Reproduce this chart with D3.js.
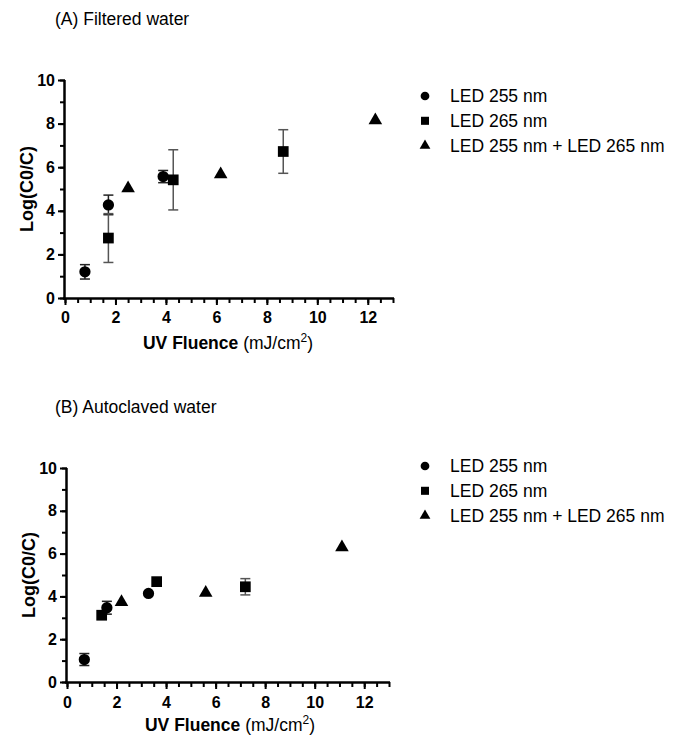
<!DOCTYPE html>
<html lang="en">
<head>
<meta charset="UTF-8">
<title>UV Fluence vs Log reduction</title>
<style>
  body { margin: 0; background: #fff; font-family: "Liberation Sans", Arial, sans-serif; }
  svg { display: block; }
  .legend text { font-size: 17.5px; fill: #000; }
</style>
</head>
<body>
<svg id="chart" width="683" height="735"></svg>
<script src="https://d3js.org/d3.v7.min.js"></script>
<script>
// Panel A: filtered water  [x, y, sd]
const seriesNames = ["LED 255 nm", "LED 265 nm", "LED 255 nm + LED 265 nm"];
const shapes = ["circle", "square", "triangle"];

const filtered255 = [[0.79, 1.2, 0.33], [1.72, 4.27, 0.45], [3.89, 5.57, 0.28]];
const filtered265 = [[1.72, 2.75, 1.12], [4.29, 5.42, 1.38], [8.65, 6.72, 1.0]];
const filteredMix = [[2.5, 5.03, 0], [6.17, 5.67, 0], [12.3, 8.15, 0]];

// Panel B: autoclaved water
const auto255 = [[0.70, 1.05, 0.28], [1.61, 3.47, 0.3], [3.29, 4.14, 0]];
const auto265 = [[1.40, 3.12, 0], [3.62, 4.69, 0], [7.2, 4.45, 0.38]];
const autoMix = [[2.2, 3.73, 0], [5.6, 4.17, 0], [11.1, 6.29, 0]];

const xMajor = [0, 2, 4, 6, 8, 10, 12];
const yMajor = [0, 2, 4, 6, 8, 10];

const svg = d3.select("#chart");

function symbolFor(shape) {
  if (shape === "circle") return d3.symbol().type(d3.symbolCircle).size(100);
  if (shape === "square") return d3.symbol().type(d3.symbolSquare).size(115);
  return d3.symbol().type(d3.symbolTriangle).size(80);
}

function styleTicks(a) {
  a.selectAll("text")
    .style("font-size", "16px")
    .style("font-weight", "bold")
    .style("font-family", "'Liberation Sans', Arial, sans-serif")
    .attr("fill", "#000");
}

function drawPanel(cfg) {
  const x = d3.scaleLinear().domain([0, 13]).range([cfg.left, cfg.left + cfg.w13]);
  const y = d3.scaleLinear().domain([0, 10]).range([cfg.bottom, cfg.top]);
  const g = svg.append("g");

  g.append("text")
    .attr("x", 55).attr("y", cfg.titleY)
    .style("font-size", "17.5px")
    .text(cfg.title);

  // x axis: majors with labels, minors every 0.5
  const xAx = g.append("g").attr("transform", `translate(0,${cfg.bottom})`);
  xAx.append("g")
    .call(d3.axisBottom(x).tickValues(d3.range(0, 13.01, 0.5)).tickSize(5).tickFormat(""))
    .call(a => a.select(".domain").remove())
    .selectAll("line").attr("stroke-width", 2);
  xAx.append("g")
    .call(d3.axisBottom(x).tickValues(xMajor).tickSize(7).tickPadding(cfg.xPad).tickSizeOuter(0))
    .call(a => a.select(".domain").attr("stroke-width", 2.5).attr("d", `M${cfg.left - 2},0.5H${cfg.left + cfg.w13 + 1}`))
    .call(styleTicks)
    .selectAll("line").attr("stroke-width", 2);

  // y axis: majors with labels, minors every 1
  const yAx = g.append("g").attr("transform", `translate(${cfg.left},0)`);
  yAx.append("g")
    .call(d3.axisLeft(y).tickValues(d3.range(0, 11, 1)).tickSize(5).tickFormat(""))
    .call(a => a.select(".domain").remove())
    .selectAll("line").attr("stroke-width", 2);
  yAx.append("g")
    .call(d3.axisLeft(y).tickValues(yMajor).tickSize(7).tickPadding(3).tickSizeOuter(0))
    .call(a => a.select(".domain").attr("stroke-width", 2.5).attr("d", `M-0.5,${cfg.bottom + 1}V${cfg.top}`))
    .call(styleTicks)
    .selectAll("line").attr("stroke-width", 2);

  // axis titles
  g.append("text")
    .attr("transform", `translate(${cfg.left - 32},${(cfg.top + cfg.bottom) / 2}) rotate(-90)`)
    .attr("text-anchor", "middle")
    .style("font-size", "18px").style("font-weight", "bold")
    .text("Log(C0/C)");

  const xt = g.append("text")
    .attr("x", cfg.left + 163).attr("y", cfg.bottom + cfg.xTitleOff)
    .attr("text-anchor", "middle")
    .style("font-size", "17.5px");
  xt.append("tspan").style("font-weight", "bold").text("UV Fluence ");
  xt.append("tspan").text("(mJ/cm");
  xt.append("tspan").attr("dy", -7).style("font-size", "12px").text("2");
  xt.append("tspan").attr("dy", 7).text(")");

  // data
  cfg.series.forEach((data, i) => {
    const sg = g.append("g");
    data.filter(d => d[2] > 0).forEach(d => {
      const cx = x(d[0]);
      const y1 = y(d[1] + d[2]), y0 = y(d[1] - d[2]);
      const col = i === 1 ? "#555" : "#222";
      sg.append("line").attr("x1", cx).attr("x2", cx).attr("y1", y1).attr("y2", y0)
        .attr("stroke", col).attr("stroke-width", 1.5);
      [y1, y0].forEach(yy => sg.append("line")
        .attr("x1", cx - 5).attr("x2", cx + 5).attr("y1", yy).attr("y2", yy)
        .attr("stroke", col).attr("stroke-width", 1.5));
    });
    sg.selectAll("path.pt").data(data).join("path")
      .attr("class", "pt")
      .attr("d", symbolFor(shapes[i]))
      .attr("transform", d => `translate(${x(d[0])},${y(d[1])})`)
      .attr("fill", "#000");
  });

  // legend
  const lg = g.append("g").attr("class", "legend");
  seriesNames.forEach((name, i) => {
    const ly = cfg.legendY + i * 24.8;
    lg.append("path")
      .attr("d", d3.symbol().type([d3.symbolCircle, d3.symbolSquare, d3.symbolTriangle][i]).size([60, 65, 50][i]))
      .attr("transform", `translate(425,${ly})`)
      .attr("fill", "#000");
    lg.append("text").attr("x", 450).attr("y", ly + 6).text(name);
  });
}

drawPanel({
  title: "(A) Filtered water", titleY: 25,
  left: 65, w13: 328, top: 80, bottom: 298,
  xPad: 6.5, xTitleOff: 51,
  series: [filtered255, filtered265, filteredMix],
  legendY: 96
});

drawPanel({
  title: "(B) Autoclaved water", titleY: 413,
  left: 67, w13: 322, top: 468, bottom: 682,
  xPad: 7.5, xTitleOff: 48.5,
  series: [auto255, auto265, autoMix],
  legendY: 466
});
</script>
</body>
</html>
